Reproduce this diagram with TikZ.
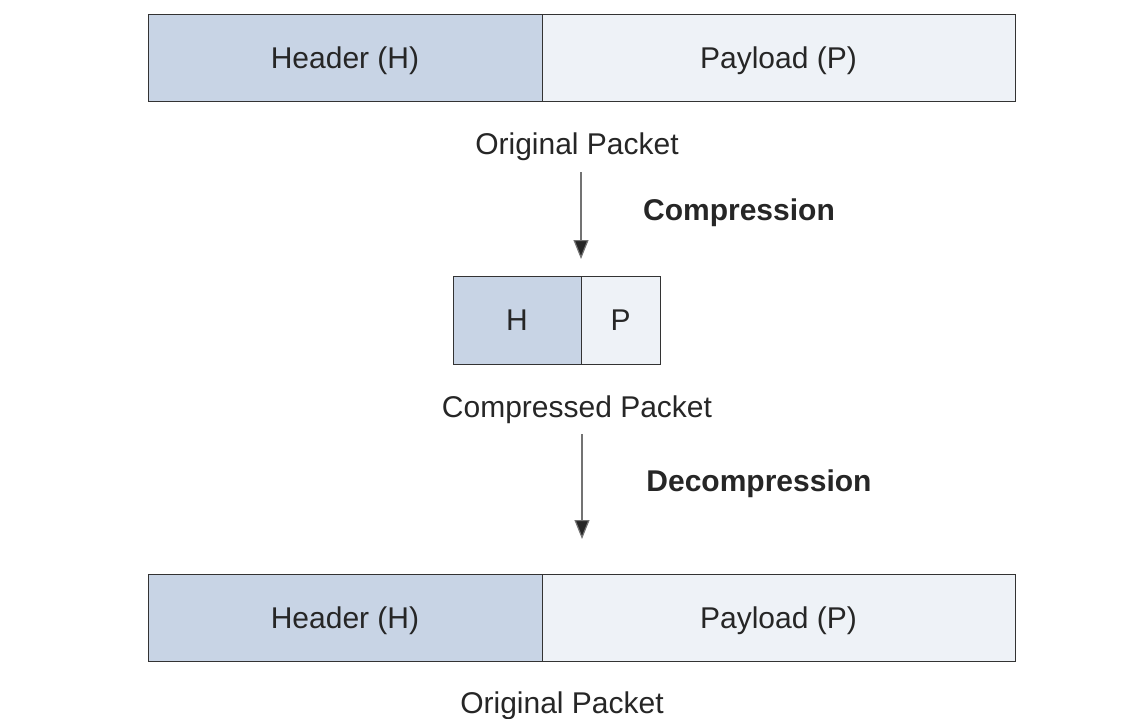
\documentclass[tikz,border=0pt]{standalone}
\usepackage{fontspec}
\setmainfont{Liberation Sans}
\usetikzlibrary{arrows.meta}
\definecolor{hdr}{HTML}{C8D4E5}
\definecolor{pay}{HTML}{EEF2F7}
\definecolor{edge}{HTML}{333333}
\begin{document}
\begin{tikzpicture}[x=1pt,y=-1pt,
  cell/.style={draw=edge,line width=0.9pt,inner sep=0pt,anchor=center,
    font=\fontsize{30}{36}\selectfont,text=black!85,text height=21.5pt,text depth=0pt},
  hcell/.style={cell,fill=hdr},
  pcell/.style={cell,fill=pay},
  lbl/.style={font=\fontsize{30}{36}\selectfont,text=black!85,inner sep=0pt,text height=21.5pt,text depth=0pt},
  blbl/.style={font=\fontsize{30}{36}\selectfont\bfseries,text=black!85,inner sep=0pt,text height=21.5pt,text depth=0pt},
  flow/.style={draw=black!55,line width=1.2pt,-{Triangle[width=15pt,length=19pt,fill=black!85]}}
]
\useasboundingbox (0,0) rectangle (1140,718);
% top packet
\node[hcell,minimum width=394pt,minimum height=87pt] (h1) at (345,57.5) {Header (H)};
\node[pcell,minimum width=473pt,minimum height=87pt] (p1) at (778.5,57.5) {Payload (P)};
\node[lbl] (o1) at (577,144) {Original Packet};
% arrow 1
\coordinate (a1s) at (581,172);
\coordinate (a1e) at (581,259);
\draw[flow] (a1s) -- (a1e);
\node[blbl] (c1) at (739,210) {Compression};
% compressed packet
\node[hcell,minimum width=128pt,minimum height=88pt] (h2) at (517,320) {H};
\node[pcell,minimum width=79pt,minimum height=88pt] (p2) at (620.5,320) {P};
\node[lbl] (o2) at (577,407) {Compressed Packet};
% arrow 2
\coordinate (a2s) at (582,434);
\coordinate (a2e) at (582,539);
\draw[flow] (a2s) -- (a2e);
\node[blbl] (d1) at (759,481) {Decompression};
% bottom packet
\node[hcell,minimum width=394pt,minimum height=87pt] (h3) at (345,617.5) {Header (H)};
\node[pcell,minimum width=473pt,minimum height=87pt] (p3) at (778.5,617.5) {Payload (P)};
\node[lbl] (o3) at (562,703) {Original Packet};
\end{tikzpicture}
\end{document}
